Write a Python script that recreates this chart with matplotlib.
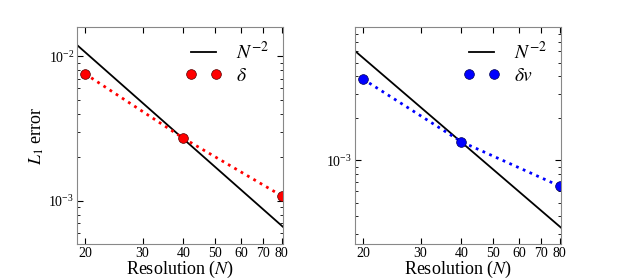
import matplotlib
matplotlib.use('Agg')
import matplotlib.pyplot as plt
from matplotlib.lines import Line2D
from matplotlib.legend_handler import HandlerLine2D
from matplotlib.ticker import FixedLocator, FixedFormatter, LogLocator, NullFormatter

plt.rcParams['font.family'] = 'serif'
plt.rcParams['font.serif'] = ['Liberation Serif', 'DejaVu Serif']
plt.rcParams['mathtext.fontset'] = 'stix'

# Resolutions and errors
resolution = [20, 40, 80]
err_delta = [7.58e-3, 2.71e-3, 1.08e-3]
err_dv = [3.81e-3, 1.36e-3, 6.56e-4]

# N^-2 reference lines (end points)
ref_N = [18.9, 80.8]
ref_delta = [1.20e-2, 6.57e-4]
ref_dv = [6.05e-3, 3.31e-4]

xticks = [20, 30, 40, 50, 60, 70, 80]

fig = plt.figure(figsize=(6.23, 2.8), dpi=100)
ax1 = fig.add_axes([0.1236, 0.1286, 0.3307, 0.775])
ax2 = fig.add_axes([0.5698, 0.1286, 0.3307, 0.775])


def panel(ax, ref, err, color, label, ylim):
    ax.plot(ref_N, ref, color='k', lw=1.3, label=r'$N^{-2}$')
    ax.plot(resolution, err, color=color, ls=':', lw=2)
    ax.plot(resolution, err, 'o', color=color, ms=7, mec='#550000' if color == 'red' else '#000055',
            mew=0.5, label=label)
    ax.set_xscale('log')
    ax.set_yscale('log')
    ax.set_xlim(18.9, 80.8)
    ax.set_ylim(*ylim)
    ax.xaxis.set_major_locator(FixedLocator(xticks))
    ax.xaxis.set_major_formatter(FixedFormatter([str(t) for t in xticks]))
    ax.xaxis.set_minor_locator(FixedLocator([]))
    ax.yaxis.set_minor_locator(LogLocator(base=10, subs=range(2, 10)))
    ax.yaxis.set_minor_formatter(NullFormatter())
    ax.tick_params(which='both', direction='in', top=True, right=True, labelsize=10, pad=2)
    ax.tick_params(which='major', length=4)
    ax.tick_params(which='minor', length=2)
    for s in ax.spines.values():
        s.set_color('#888888')
    ax.set_xlabel(r'Resolution ($N$)', fontsize=13, labelpad=-1)
    ax.legend(loc='upper right', frameon=False, fontsize=14, numpoints=2,
              handlelength=1.35, handletextpad=1.0, labelspacing=0.25,
              borderaxespad=0.3,
              handler_map={Line2D: HandlerLine2D(marker_pad=0.05)})


panel(ax1, ref_delta, err_delta, 'red', r'$\delta$', (5.0e-4, 1.6e-2))
panel(ax2, ref_dv, err_dv, 'blue', r'$\delta v$', (2.53e-4, 8.97e-3))
ax1.set_ylabel(r'$L_1$ error', fontsize=13, labelpad=2)

fig.savefig('out.png', dpi=100)
